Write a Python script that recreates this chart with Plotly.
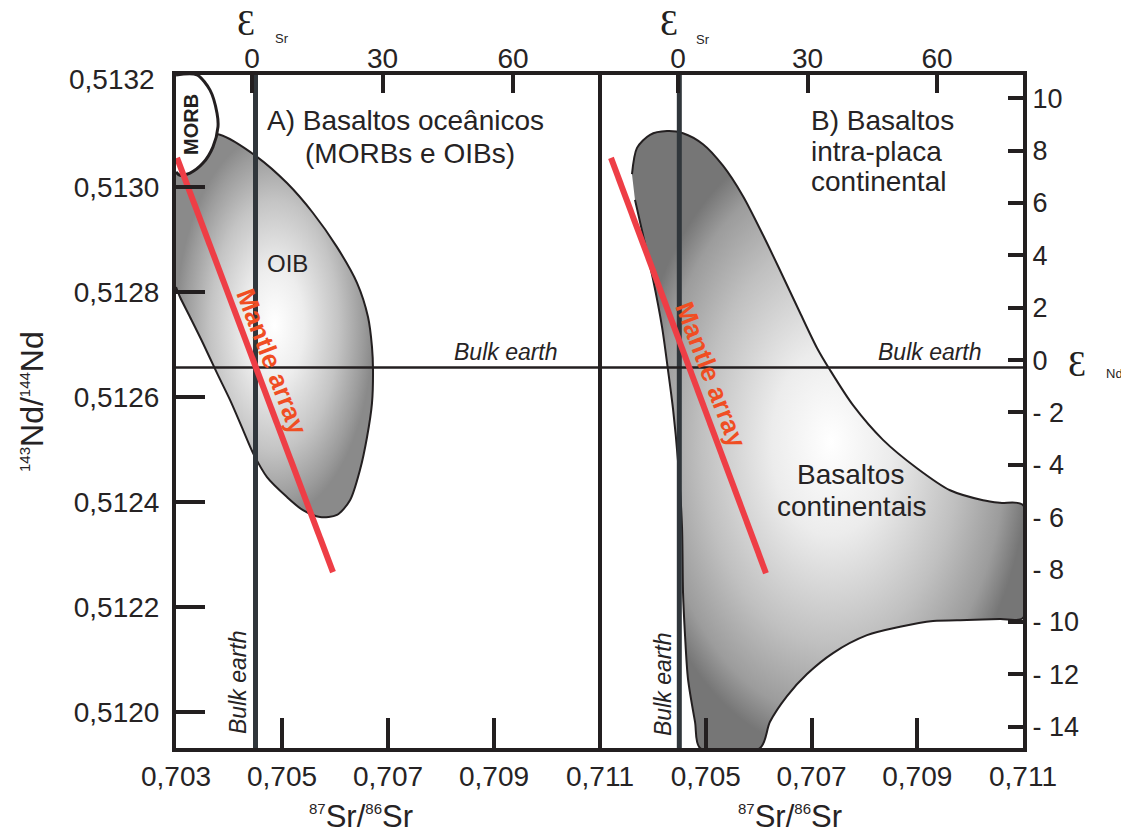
import plotly.graph_objects as go

# ---------------- data ----------------
# axis tick values / labels
sr_ticks_left = [0.703, 0.705, 0.707, 0.709, 0.711]
sr_labels_left = ["0,703", "0,705", "0,707", "0,709", "0,711"]
sr_ticks_right = [0.705, 0.707, 0.709, 0.711]
sr_labels_right = ["0,705", "0,707", "0,709", "0,711"]
nd_ticks = [0.5120, 0.5122, 0.5124, 0.5126, 0.5128, 0.5130]
nd_labels = ["0,5120", "0,5122", "0,5124", "0,5126", "0,5128", "0,5130"]
eps_sr_ticks = [0, 30, 60]
eps_nd_ticks = [10, 8, 6, 4, 2, 0, -2, -4, -6, -8, -10, -12, -14]
eps_nd_labels = ["10", "8", "6", "4", "2", "0", "- 2", "- 4", "- 6", "- 8", "- 10", "- 12", "- 14"]

# reference values
bulk_earth_sr = 0.7045
bulk_earth_nd = 0.512656

# OIB field outline (87Sr/86Sr, 143Nd/144Nd)
oib_sr = [0.70300, 0.703830, 0.704528, 0.705094, 0.705585, 0.706038, 0.706415, 0.706623,
          0.706698, 0.706717, 0.706698, 0.706604, 0.706472, 0.706283, 0.706038, 0.705717,
          0.705396, 0.705094, 0.704717, 0.704453, 0.704264, 0.704019, 0.703774, 0.703509,
          0.703264, 0.703075, 0.70300]
oib_nd = [0.513099, 0.513099, 0.513057, 0.513007, 0.512950, 0.512885, 0.512817, 0.512752,
          0.512695, 0.512651, 0.512588, 0.512523, 0.512461, 0.512403, 0.512375, 0.512371,
          0.512384, 0.512409, 0.512447, 0.512493, 0.512537, 0.512594, 0.512645, 0.512702,
          0.512752, 0.512790, 0.512809]

# MORB field outline
morb_sr = [0.70300, 0.703396, 0.703642, 0.703774, 0.703792, 0.703698, 0.703509, 0.703264,
           0.703075, 0.70300]
morb_nd = [0.513213, 0.513213, 0.513184, 0.513140, 0.513114, 0.513076, 0.513045, 0.513026,
           0.513022, 0.513028]

# continental intra-plate basalt field outline
cont_sr = [0.703605, 0.703700, 0.703946, 0.704267, 0.704570, 0.704948, 0.705326, 0.705705,
           0.706083, 0.706404, 0.706783, 0.707104, 0.707350, 0.707785, 0.708352, 0.708995,
           0.709620, 0.710244, 0.710565, 0.711000, 0.711000, 0.710565, 0.709941, 0.709298,
           0.708674, 0.708050, 0.707407, 0.706915, 0.706537, 0.706215, 0.706026, 0.704891,
           0.704797, 0.704664, 0.704608, 0.704570, 0.704551, 0.704475, 0.704381, 0.704286,
           0.704173, 0.704002, 0.703813, 0.703662]
cont_nd = [0.513024, 0.513074, 0.513099, 0.513106, 0.513102, 0.513081, 0.513040, 0.512982,
           0.512908, 0.512841, 0.512760, 0.512693, 0.512651, 0.512584, 0.512518, 0.512464,
           0.512422, 0.512403, 0.512398, 0.512394, 0.512179, 0.512177, 0.512175, 0.512173,
           0.512162, 0.512146, 0.512112, 0.512072, 0.512030, 0.511981, 0.511931, 0.511931,
           0.511981, 0.512063, 0.512146, 0.512228, 0.512352, 0.512478, 0.512577, 0.512651,
           0.512733, 0.512824, 0.512908, 0.512975]

# mantle array lines
mantle_left_sr = [0.703019, 0.705962]
mantle_left_nd = [0.513055, 0.512266]
mantle_right_sr = [0.703208, 0.706139]
mantle_right_nd = [0.513055, 0.512264]

# ---------------- styling ----------------
SANS = "Liberation Sans, Arial, sans-serif"
SERIF = "Liberation Serif, DejaVu Serif, serif"
INK = "#231f20"
TXT = "#262324"
SR_RANGE = [0.703, 0.711]
ND_RANGE = [0.51193116, 0.51321281]

# the page body has an 8 px margin, so the figure is made 8 px smaller
OFF = 8
W, H = 1129 - OFF, 836 - OFF
PL, PR, PT, PB = 176, 1023, 75, 748          # plot box in page pixels
L, T = PL - OFF, PT - OFF
R, B = W - (PR - OFF), H - (PB - OFF)
PW, PH = PR - PL, PB - PT
split = (600 - PL) / PW


def px(x):
    return (x - PL) / PW


def py(y):
    return (PB - y) / PH


fig = go.Figure()

grad_oib = dict(type="radial", colorscale=[[0, "#ffffff"], [0.3, "#ededed"], [0.65, "#c4c4c4"],
                                           [0.9, "#9c9c9c"], [1, "#8a8a8a"]])
grad_cont = dict(type="radial", colorscale=[[0, "#ffffff"], [0.3, "#ececec"], [0.65, "#c0c0c0"],
                                            [0.88, "#9c9c9c"], [1, "#767676"]])

fig.add_trace(go.Scatter(x=oib_sr, y=oib_nd, mode="lines", fill="toself", fillgradient=grad_oib,
                         line=dict(color=INK, width=2, shape="spline", smoothing=0.8),
                         xaxis="x", yaxis="y", hoverinfo="skip", showlegend=False))
fig.add_trace(go.Scatter(x=cont_sr, y=cont_nd, mode="lines", fill="toself", fillgradient=grad_cont,
                         line=dict(color=INK, width=2, shape="spline", smoothing=0.8),
                         xaxis="x2", yaxis="y", hoverinfo="skip", showlegend=False))

# bulk earth lines
for xa in ["x", "x2"]:
    fig.add_trace(go.Scatter(x=[bulk_earth_sr, bulk_earth_sr], y=ND_RANGE, mode="lines",
                             line=dict(color="#30363b", width=5), xaxis=xa, yaxis="y",
                             hoverinfo="skip", showlegend=False))
    fig.add_trace(go.Scatter(x=SR_RANGE, y=[bulk_earth_nd, bulk_earth_nd], mode="lines",
                             line=dict(color=INK, width=2.5), xaxis=xa, yaxis="y",
                             hoverinfo="skip", showlegend=False))

# MORB field
fig.add_trace(go.Scatter(x=morb_sr, y=morb_nd, mode="lines", fill="toself", fillcolor="#ffffff",
                         line=dict(color=INK, width=3, shape="spline", smoothing=0.8),
                         xaxis="x", yaxis="y", hoverinfo="skip", showlegend=False))

# mantle arrays
fig.add_trace(go.Scatter(x=mantle_left_sr, y=mantle_left_nd, mode="lines",
                         line=dict(color="#ee3e46", width=6), xaxis="x", yaxis="y",
                         hoverinfo="skip", showlegend=False))
fig.add_trace(go.Scatter(x=mantle_right_sr, y=mantle_right_nd, mode="lines",
                         line=dict(color="#ee3e46", width=6), xaxis="x2", yaxis="y",
                         hoverinfo="skip", showlegend=False))

# empty traces so the epsilon axes get subplots
fig.add_trace(go.Scatter(x=[], y=[], xaxis="x3", yaxis="y2", showlegend=False, hoverinfo="skip"))
fig.add_trace(go.Scatter(x=[], y=[], xaxis="x4", yaxis="y2", showlegend=False, hoverinfo="skip"))

tickfont = dict(family=SANS, size=28, color=TXT)
common = dict(showgrid=False, zeroline=False, showline=True, linewidth=4, linecolor=INK,
              ticks="inside", tickwidth=4, tickcolor=INK, tickfont=tickfont)

fig.update_layout(
    width=W, height=H, margin=dict(l=L, r=R, t=T, b=B, autoexpand=False),
    paper_bgcolor="white", plot_bgcolor="white",
    xaxis=dict(domain=[0, split], range=SR_RANGE, tickvals=sr_ticks_left, ticktext=sr_labels_left,
               ticklen=30, anchor="y", **common),
    xaxis2=dict(domain=[split, 1], range=SR_RANGE, tickvals=sr_ticks_right, ticktext=sr_labels_right,
                ticklen=30, anchor="y", **common),
    xaxis3=dict(overlaying="x", side="top", range=[-17.47, 80.0], tickvals=eps_sr_ticks,
                ticklen=18, anchor="y", ticklabelstandoff=-8, **common),
    xaxis4=dict(overlaying="x2", side="top", range=[-18.07, 79.92], tickvals=eps_sr_ticks,
                ticklen=18, anchor="y", ticklabelstandoff=-8, **common),
    yaxis=dict(range=ND_RANGE, tickvals=nd_ticks, ticktext=nd_labels, ticklen=29, anchor="x",
               ticklabelstandoff=7, **common),
    yaxis2=dict(overlaying="y", side="right", anchor="x2", range=[-14.815, 10.89],
                tickvals=eps_nd_ticks, ticktext=eps_nd_labels, ticklen=15, **common),
)
fig.update_yaxes(tickfont=dict(family=SANS, size=27, color=TXT), selector=dict(side="right"))

# divider between the panels
fig.add_shape(type="line", xref="paper", yref="paper", x0=split, x1=split, y0=0, y1=1,
              line=dict(color=INK, width=4), layer="above")

ann = []


def text(x, y, s, size=28, color=TXT, family=SANS, angle=0, xanchor="center", yanchor="middle"):
    ann.append(dict(x=px(x), y=py(y), xref="paper", yref="paper", text=s, showarrow=False,
                    font=dict(family=family, size=size, color=color), textangle=angle,
                    xanchor=xanchor, yanchor=yanchor))


# top-left tick label without tick
text(157, 80, "0,5132", size=28, xanchor="right")

# panel titles
text(405, 121, "A) Basaltos oceânicos")
text(410, 153, "(MORBs e OIBs)")
text(809, 120, "B) Basaltos", xanchor="left")
text(809, 151, "intra-placa", xanchor="left")
text(809, 181, "continental", xanchor="left")

# field labels
text(287, 263, "OIB", size=24)
text(850, 474, "Basaltos")
text(851, 507, "continentais")
text(191, 125, "<b>MORB</b>", size=20, color=INK, angle=-90)

# mantle array labels
text(272, 362, "<b>Mantle array</b>", size=26, color="#f04e23", angle=69)
text(711, 375, "<b>Mantle array</b>", size=26, color="#f04e23", angle=69)

# bulk earth labels
text(506, 352, "<i>Bulk earth</i>", size=23)
text(930, 352, "<i>Bulk earth</i>", size=23)
text(238, 682, "<i>Bulk earth</i>", size=23, angle=-90)
text(663, 684, "<i>Bulk earth</i>", size=23, angle=-90)

# axis titles
text(32, 402, "<sup><span style='font-size:15px'>143</span></sup>Nd/<sup><span style='font-size:15px'>144</span></sup>Nd",
     size=32, angle=-90)
text(361, 816, "<sup><span style='font-size:15px'>87</span></sup>Sr/<sup><span style='font-size:15px'>86</span></sup>Sr", size=31)
text(790, 816, "<sup><span style='font-size:15px'>87</span></sup>Sr/<sup><span style='font-size:15px'>86</span></sup>Sr", size=31)

# epsilon labels
text(246, 23, "Ɛ", size=36, color=INK, family=SERIF)
text(282, 39, "Sr", size=13)
text(669, 23, "Ɛ", size=36, color=INK, family=SERIF)
text(703, 40, "Sr", size=13)
text(1077, 364, "Ɛ", size=36, color=INK, family=SERIF)
text(1114, 373, "Nd", size=13)

fig.update_layout(annotations=ann)

fig.write_html("out.html")
